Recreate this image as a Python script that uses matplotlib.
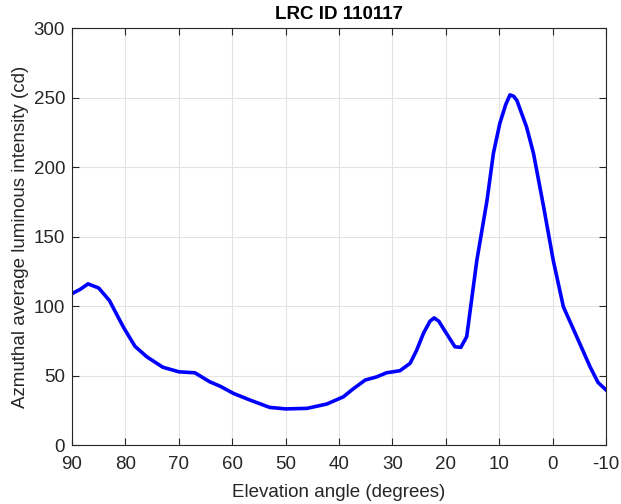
import numpy as np
import matplotlib
matplotlib.use('Agg')
import matplotlib.pyplot as plt

# elevation angle (degrees) and azimuthal average intensity (cd)
angle = [90, 88.5, 87, 85, 83, 81.5, 80.4, 79, 78.2, 76, 73, 70, 67, 64.2, 62.3, 59.8,
         56.7, 53, 50, 46, 42.3, 39.2, 37.5, 35.1, 33, 31.1, 28.6, 26.7, 25.5, 24.2,
         23, 22.2, 21.3, 20.5, 18.3, 17.2, 16.1, 14.2, 12.3, 11.1, 9.9, 8.8, 8.0,
         7.3, 6.7, 4.9, 3.6, 1.7, -0.1, -2.0, -4.5, -7, -8.5, -10]
intensity = [109, 112, 116, 113, 104, 93, 85, 76, 71, 63.5, 56, 52.7, 52, 45.5, 42.4,
             37.2, 32.4, 27.1, 26, 26.4, 29.5, 34.7, 40, 46.8, 49, 52, 53.5, 58.8, 68,
             80.4, 89, 91.5, 89, 84, 70.7, 70.3, 78, 133, 176, 210, 231.5, 245, 252,
             251, 248, 229, 210, 171.5, 133, 99.5, 78, 56.3, 45, 39.6]

plt.rcParams['font.family'] = ['Liberation Sans', 'DejaVu Sans']
plt.rcParams['axes.unicode_minus'] = False

fig = plt.figure(figsize=(6.21, 5.04), dpi=100)
ax = fig.add_axes([0.116, 0.117, 0.860, 0.827])

ax.plot(angle, intensity, color='#0000ff', linewidth=2.6, solid_joinstyle='round')

ax.set_xlim(90, -10)
ax.set_ylim(0, 300)
ax.set_xticks(np.arange(90, -11, -10))
ax.set_yticks(np.arange(0, 301, 50))
ax.grid(True, color='#e3e3e3', linewidth=0.8)
ax.set_axisbelow(True)
ax.tick_params(direction='in', top=True, right=True, labelsize=13.5, colors='#262626',
               length=5, width=0.8)
ax.tick_params(axis='x', pad=8)
ax.tick_params(axis='y', pad=5)
for s in ax.spines.values():
    s.set_color('#262626')
    s.set_linewidth(0.8)

ax.set_title('LRC ID 110117', fontsize=13.5, fontweight='bold', pad=7)
ax.set_xlabel('Elevation angle (degrees)', fontsize=13.5, color='#262626', labelpad=8)
ax.set_ylabel('Azmuthal average luminous intensity (cd)', fontsize=13.5, color='#262626',
              labelpad=3)

fig.savefig('out.png', dpi=100)
